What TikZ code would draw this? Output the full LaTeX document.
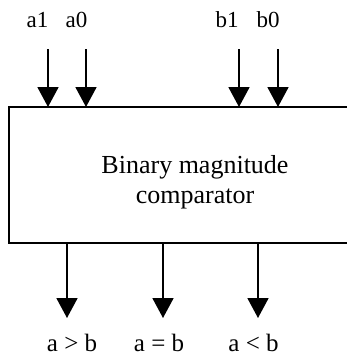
\documentclass[tikz,border=0pt]{standalone}
\usepackage{fontspec}
\setmainfont{Liberation Serif}
\usetikzlibrary{arrows.meta}
\begin{document}
\begin{tikzpicture}[x=1bp,y=-1bp,
  sig/.style={line width=1.8bp,-{Triangle[length=20bp,width=21bp]}},
  toplbl/.style={anchor=base,inner sep=0pt,font=\fontsize{23bp}{27bp}\selectfont},
  botlbl/.style={anchor=base,inner sep=0pt,font=\fontsize{25bp}{29bp}\selectfont},
  blockbox/.style={draw,line width=1.8bp,anchor=north west,minimum width=372bp,minimum height=136bp,inner sep=0pt,outer sep=0pt}]
\useasboundingbox (0,0) rectangle (347,361);
\clip (0,0) rectangle (347,361);
% block
\node[blockbox] (box) at (9,107) {};
\node[anchor=base,align=center,inner sep=0pt,font=\fontsize{26bp}{30bp}\selectfont] (title) at (195,203) {Binary magnitude\\comparator};
% input labels
\node[toplbl] (la1) at (37.5,27) {a1};
\node[toplbl] (la0) at (76.5,27) {a0};
\node[toplbl] (lb1) at (227,27) {b1};
\node[toplbl] (lb0) at (268,27) {b0};
% input arrows
\coordinate (ia1) at (48,49);
\coordinate (ia0) at (86,49);
\coordinate (ib1) at (239,49);
\coordinate (ib0) at (278,49);
\foreach \c in {ia1,ia0,ib1,ib0}
  \draw[sig] (\c) -- (\c |- box.north);
% output labels
\node[botlbl] (gt) at (72,351) {a > b};
\node[botlbl] (eq) at (159,351) {a = b};
\node[botlbl] (lt) at (253.5,351) {a < b};
% output arrows
\coordinate (ogt) at (67,318);
\coordinate (oeq) at (163,318);
\coordinate (olt) at (258,318);
\foreach \c in {ogt,oeq,olt}
  \draw[sig] (\c |- box.south) -- (\c);
\end{tikzpicture}
\end{document}
